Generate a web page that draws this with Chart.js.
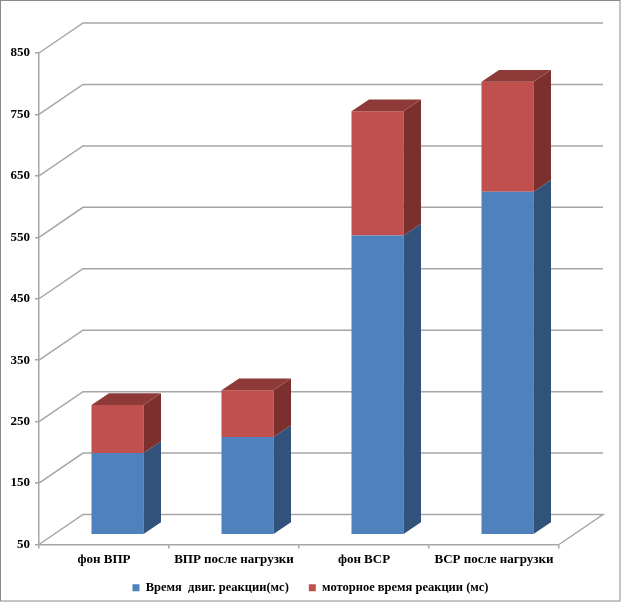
<!DOCTYPE html>
<html>
<head>
<meta charset="utf-8">
<script src="https://cdn.jsdelivr.net/npm/chart.js@4.4.1/dist/chart.umd.min.js"></script>
<style>
  html, body { margin: 0; padding: 0; background: #fff; }
  #wrap { width: 621px; height: 602px; }
</style>
</head>
<body>
<div id="wrap"><canvas id="chart" width="621" height="602"></canvas></div>
<script>
document.addEventListener('DOMContentLoaded', function () {
    const categories = ['фон ВПР', 'ВПР после нагрузки', 'фон ВСР', 'ВСР после нагрузки'];
    const reactionTime = [182, 208, 536, 607];   // Время двиг. реакции (мс)
    const motorTime = [78, 76, 202, 179];        // моторное время реакции (мс)
    const yTicks = [50, 150, 250, 350, 450, 550, 650, 750, 850];

    // 3D look: depth of the back wall and of the bars
    const WALL_DX = 44, WALL_DY = 30;
    const BAR_SHIFT_X = 13.5, BAR_SHIFT_Y = 10.5;
    const BAR_DX = 17.5, BAR_DY = 11.7;
    const gridColor = '#A6A6A6';
    const sideColors = ['#31527A', '#7B302E'];
    const topColor = '#8E3A38';

    const threeD = {
        id: 'threeD',
        afterLayout(chart) {
            // centre the legend on the whole picture and pull it up a little
            if (chart.legend) {
                chart.legend.left = 0;
                chart.legend.right = chart.width;
                chart.legend.top -= 7;
                chart.legend.bottom -= 7;
            }
        },
        beforeDatasetsDraw(chart) {
            const ctx = chart.ctx;
            const x = chart.scales.x, y = chart.scales.y;
            ctx.save();
            ctx.strokeStyle = gridColor;
            ctx.lineWidth = 1.5;
            yTicks.forEach(function (v, i) {
                const py = y.getPixelForValue(v);
                ctx.beginPath();
                ctx.moveTo(x.left, py);
                ctx.lineTo(x.left + WALL_DX, py - WALL_DY);
                ctx.lineTo(x.right + WALL_DX, py - WALL_DY);
                if (i === 0) {
                    ctx.lineTo(x.right, py);
                }
                ctx.stroke();
            });
            ctx.restore();
            // bars sit a bit deeper than the front plane
            ctx.save();
            ctx.translate(BAR_SHIFT_X, -BAR_SHIFT_Y);
        },
        afterDatasetsDraw(chart) {
            const ctx = chart.ctx;
            ctx.restore();
            const bottom = chart.scales.y.bottom;
            const last = chart.data.datasets.length - 1;
            chart.data.datasets.forEach(function (ds, di) {
                chart.getDatasetMeta(di).data.forEach(function (bar) {
                    const p = bar.getProps(['x', 'y', 'base', 'width'], true);
                    const l = p.x - p.width / 2 + BAR_SHIFT_X;
                    const r = p.x + p.width / 2 + BAR_SHIFT_X;
                    const t = p.y - BAR_SHIFT_Y;
                    const b = Math.min(p.base, bottom) - BAR_SHIFT_Y;
                    ctx.fillStyle = sideColors[di];
                    ctx.beginPath();
                    ctx.moveTo(r, t);
                    ctx.lineTo(r + BAR_DX, t - BAR_DY);
                    ctx.lineTo(r + BAR_DX, b - BAR_DY);
                    ctx.lineTo(r, b);
                    ctx.closePath();
                    ctx.fill();
                    if (di === last) {
                        ctx.fillStyle = topColor;
                        ctx.beginPath();
                        ctx.moveTo(l, t);
                        ctx.lineTo(l + BAR_DX, t - BAR_DY);
                        ctx.lineTo(r + BAR_DX, t - BAR_DY);
                        ctx.lineTo(r, t);
                        ctx.closePath();
                        ctx.fill();
                    }
                });
            });
        },
        afterDraw(chart) {
            const ctx = chart.ctx;
            ctx.save();
            ctx.strokeStyle = '#8A8A8A';
            ctx.lineWidth = 1;
            ctx.strokeRect(0.5, 0.5, chart.width - 1.5, chart.height - 1.5);
            ctx.restore();
        }
    };

    const font = { family: '"Liberation Serif", "Times New Roman", serif', size: 13, weight: 'bold' };
    const legendFont = { family: '"Liberation Serif", "Times New Roman", serif', size: 12.5, weight: 'bold' };

    new Chart(document.getElementById('chart'), {
        type: 'bar',
        data: {
            labels: categories,
            datasets: [{
                label: 'Время  двиг. реакции(мс)',
                data: reactionTime,
                backgroundColor: '#4F81BD',
                borderWidth: 0
            }, {
                label: 'моторное время реакции (мс)',
                data: motorTime,
                backgroundColor: '#C0504D',
                borderWidth: 0
            }]
        },
        options: {
            responsive: false,
            animation: false,
            layout: { padding: { left: 0, right: 62, top: 53, bottom: -9 } },
            datasets: { bar: { categoryPercentage: 0.8, barPercentage: 0.5 } },
            scales: {
                x: {
                    stacked: true,
                    grid: { drawOnChartArea: false, tickLength: 4, color: gridColor, lineWidth: 1.5 },
                    border: { color: gridColor, width: 1.5 },
                    ticks: { color: '#000', font: font, padding: 3 },
                    afterFit(scale) { scale.height = 24; }
                },
                y: {
                    stacked: true,
                    min: 50,
                    max: 850,
                    grid: { drawOnChartArea: false, tickLength: 4, color: gridColor, lineWidth: 1.5 },
                    border: { color: gridColor, width: 1.5 },
                    ticks: { color: '#000', font: font, padding: 5 },
                    afterBuildTicks(scale) { scale.ticks = yTicks.map(v => ({ value: v })); },
                    afterFit(scale) { scale.width = 39; }
                }
            },
            plugins: {
                legend: {
                    position: 'bottom',
                    labels: { color: '#000', font: legendFont, boxWidth: 7, boxHeight: 7, padding: 20 }
                },
                tooltip: { enabled: false }
            }
        },
        plugins: [threeD]
    });
});
</script>
</body>
</html>
